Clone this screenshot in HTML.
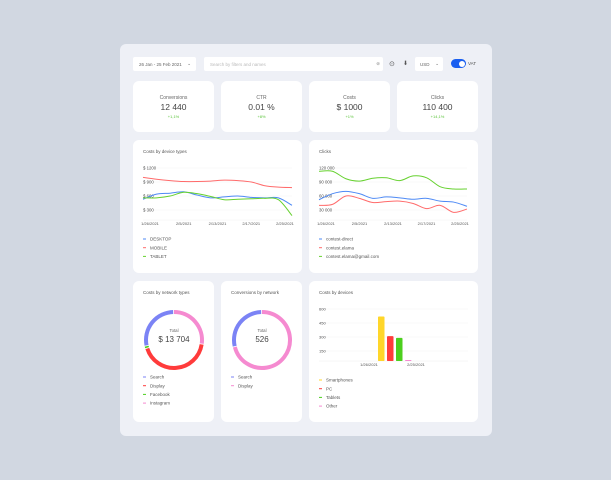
<!DOCTYPE html>
<html><head><meta charset="utf-8"><style>
*{box-sizing:border-box;margin:0;padding:0}
body{width:611px;height:480px;background:#d1d7e1;font-family:"Liberation Sans",sans-serif;position:relative;overflow:hidden;color:#444}
.abs{position:absolute}
.panel{left:120px;top:44px;width:372px;height:392px;background:#eef0f6;border-radius:6px}
.card{background:#fff;border-radius:6px;position:absolute}
.kt{font-size:5px;color:#666;text-align:center;position:absolute;width:100%;top:14px}
.kv{font-size:8.5px;color:#444;text-align:center;position:absolute;width:100%;top:21px}
.kd{font-size:4px;color:#5ac43a;text-align:center;position:absolute;width:100%;top:33px}
.ct{font-size:4.5px;color:#555;position:absolute;left:10px;top:9px}
.box{background:#fff;border-radius:2px;position:absolute;font-size:4.5px;color:#666}
svg text{font-family:"Liberation Sans",sans-serif}
</style></head><body>
<div class="abs panel"></div>
<div class="box" style="left:133px;top:57px;width:63px;height:14px;padding:4.5px 0 0 6px">26 Jan - 25 Feb 2021<span style="position:absolute;right:5px;top:4px">⌄</span></div>
<div class="box" style="left:204px;top:57px;width:179px;height:14px;padding:4.5px 0 0 6px;color:#bbb">Search by filters and names<span style="position:absolute;right:3px;top:4px;color:#999">⊗</span></div>
<div class="abs" style="left:389px;top:60px;font-size:7px;color:#555">⊙</div>
<div class="abs" style="left:403px;top:60px;font-size:6px;color:#555">⬇</div>
<div class="box" style="left:415px;top:57px;width:28px;height:14px;padding:4.5px 0 0 5px">USD<span style="position:absolute;right:4px;top:4px">⌄</span></div>
<div class="abs" style="left:451px;top:59px;width:15px;height:9px;border-radius:5px;background:#1a5ff0"><div style="position:absolute;right:1.5px;top:1.5px;width:6px;height:6px;border-radius:3px;background:#fff"></div></div>
<div class="abs" style="left:468px;top:61px;font-size:4.5px;color:#555">VAT</div>

<div class="card" style="left:133px;top:81px;width:81px;height:51px"><div class="kt">Conversions</div><div class="kv">12 440</div><div class="kd">+1,1%</div></div>
<div class="card" style="left:221px;top:81px;width:81px;height:51px"><div class="kt">CTR</div><div class="kv">0.01 %</div><div class="kd">+8%</div></div>
<div class="card" style="left:309px;top:81px;width:81px;height:51px"><div class="kt">Costs</div><div class="kv">$ 1000</div><div class="kd">+1%</div></div>
<div class="card" style="left:397px;top:81px;width:81px;height:51px"><div class="kt">Clicks</div><div class="kv">110 400</div><div class="kd">+14,1%</div></div>

<div class="card" style="left:133px;top:140px;width:169px;height:133px"><div class="ct">Costs by device types</div></div>
<div class="card" style="left:309px;top:140px;width:169px;height:133px"><div class="ct">Clicks</div></div>
<div class="card" style="left:133px;top:281px;width:81px;height:141px"><div class="ct">Costs by network types</div></div>
<div class="card" style="left:221px;top:281px;width:81px;height:141px"><div class="ct">Conversions by network</div></div>
<div class="card" style="left:309px;top:281px;width:169px;height:141px"><div class="ct">Costs by devices</div></div>

<svg id="s" class="abs" style="left:0;top:0" width="611" height="480"></svg>
<script>
const dates=["1/26/2021","2/5/2021","2/13/2021","2/17/2021","2/25/2021"];
const c1Ticks=[1200,900,600,300];
const c1Labels=["$ 1200","$ 900","$ 600","$ 300"];
const desktop=[530,640,660,690,620,560,580,600,570,560,560,400];
const mobile=[1000,960,930,910,910,920,940,930,900,820,790,780];
const tablet=[560,560,600,680,650,590,520,530,540,550,520,180];
const c2Ticks=[120000,90000,60000,30000];
const c2Labels=["120 000","90 000","60 000","30 000"];
const direct=[52000,65000,70000,65000,55000,58000,56000,53000,55000,49000,47000,38000];
const elama=[40000,42000,60000,55000,46000,48000,49000,44000,33000,40000,25000,32000];
const gmail=[113000,113000,97000,92000,98000,99000,93000,103000,99000,80000,75000,75000];
const netLabels=["Search","Display","Facebook","Instagram"];
const netValues=[3850,5900,180,3774];
const netColors=["#7b83f5","#ff3b3b","#4ccf1e","#f58ad0"];
const netOrder=[0,2,1,3];
const convLabels=["Search","Display"];
const convValues=[150,376];
const convColors=["#7b83f5","#f58ad0"];
const convOrder=[0,1];
const devLabels=["Smartphones","PC","Tablets","Other"];
const devValues=[520,310,290,10];
const devColors=["#ffd62a","#ff3b3b","#4ccf1e","#f58ad0"];
const barTicks=[600,450,300,150];

const S=document.getElementById('s');const NS="http://www.w3.org/2000/svg";
function mk(t,a,p){const e=document.createElementNS(NS,t);for(const k in a)e.setAttribute(k,a[k]);(p||S).appendChild(e);return e;}
function smooth(pts){let d="M"+pts[0][0]+","+pts[0][1];for(let i=0;i<pts.length-1;i++){const p0=pts[i-1]||pts[i],p1=pts[i],p2=pts[i+1],p3=pts[i+2]||p2;d+=" C"+(p1[0]+(p2[0]-p0[0])/6)+","+(p1[1]+(p2[1]-p0[1])/6)+" "+(p2[0]-(p3[0]-p1[0])/6)+","+(p2[1]-(p3[1]-p1[1])/6)+" "+p2[0]+","+p2[1];}return d;}
function lineChart(x0,x1,yTop,yBot,ticks,labels,series,colors,names,legY){
  const tMax=ticks[0],tMin=ticks[ticks.length-1];
  const y=v=>yTop+(tMax-v)/(tMax-tMin)*(yBot-yTop), n=series[0].length, x=i=>x0+i*(x1-x0)/(n-1);
  ticks.forEach((t,i)=>{const g=mk('line',{x1:x0,x2:x1,y1:y(t),y2:y(t),stroke:'#f1f1f4','stroke-width':0.5});
    const tx=mk('text',{x:x0,y:y(t)+1.5,'font-size':4.3,fill:'#555'});tx.textContent=labels[i];});
  const ax=mk('line',{x1:x0,x2:x1,y1:yBot+10,y2:yBot+10,stroke:'#f0f0f0','stroke-width':0.5});
  dates.forEach((d,i)=>{const tx=mk('text',{x:x0+7+i*(x1-x0-14)/(dates.length-1),y:yBot+15,'font-size':4,fill:'#555','text-anchor':'middle'});tx.textContent=d;});
  series.forEach((s,k)=>{const p=mk('path',{d:smooth(s.map((v,i)=>[x(i),y(v)])),fill:'none',stroke:colors[k],'stroke-width':1});});
  legend(x0,legY,names,colors,8.7);
}
function legend(x,y0,names,colors,step){names.forEach((nm,i)=>{const l=mk('line',{x1:x,x2:x+3,y1:y0+i*step,y2:y0+i*step,stroke:colors[i],'stroke-width':1});
  const t=mk('text',{x:x+7,y:y0+i*step+1.6,'font-size':4.5,fill:'#555'});t.textContent=nm;});}
lineChart(143,292,168,210,c1Ticks,c1Labels,[desktop,mobile,tablet],["#4e8af5","#ff6b6b","#66d12f"],["DESKTOP","MOBILE","TABLET"],239);
lineChart(319,467,168,210,c2Ticks,c2Labels,[direct,elama,gmail],["#4e8af5","#ff6b6b","#66d12f"],["contest-direct","contest.elama","contest.elama@gmail.com"],239);
function donut(cx,cy,r,vals,cols,order,label){const sum=vals.reduce((a,b)=>a+b,0);let a=-Math.PI/2-0.03;
  order.forEach(i=>{const v=vals[i];const da=v/sum*2*Math.PI,a1=a-Math.max(da-0.03,0.01);const p=mk('path',{d:`M${cx+r*Math.cos(a)},${cy+r*Math.sin(a)} A${r},${r} 0 ${da>Math.PI?1:0} 0 ${cx+r*Math.cos(a1)},${cy+r*Math.sin(a1)}`,fill:'none',stroke:cols[i],'stroke-width':4});a-=da;});
  const t1=mk('text',{x:cx,y:cy-8,'font-size':4.3,fill:'#666','text-anchor':'middle'});t1.textContent='Total';
  const t2=mk('text',{x:cx,y:cy+2,'font-size':8,fill:'#444','text-anchor':'middle'});t2.textContent=label;}
donut(174,340,28,netValues,netColors,netOrder,"$ 13 704");legend(143,377,netLabels,netColors,8.7);
donut(262,340,28,convValues,convColors,convOrder,"526");legend(231,377,convLabels,convColors,8.7);
(function(){const x0=319,x1=468,yb=361,yt=309,max=600,y=v=>yt+(max-v)/150*14;
 barTicks.forEach(t=>{const g=mk('line',{x1:x0,x2:x1,y1:y(t),y2:y(t),stroke:'#f1f1f4','stroke-width':0.5});
  const tx=mk('text',{x:x0,y:y(t)+1.5,'font-size':4,fill:'#555'});tx.textContent=t;});
 const ax=mk('line',{x1:x0,x2:x1,y1:yb,y2:yb,stroke:'#eee','stroke-width':0.5});
 devValues.forEach((v,i)=>{const top=Math.min(y(v),yb-1);const r=mk('rect',{x:378+i*9,y:top,width:6.5,height:yb-top,fill:devColors[i],rx:0.8});});
 [["1/26/2021",369],["2/25/2021",416]].forEach(d=>{const tx=mk('text',{x:d[1],y:366,'font-size':4,fill:'#555','text-anchor':'middle'});tx.textContent=d[0];});
 legend(319,380,devLabels,devColors,8.7);})();
</script>
</body></html>
